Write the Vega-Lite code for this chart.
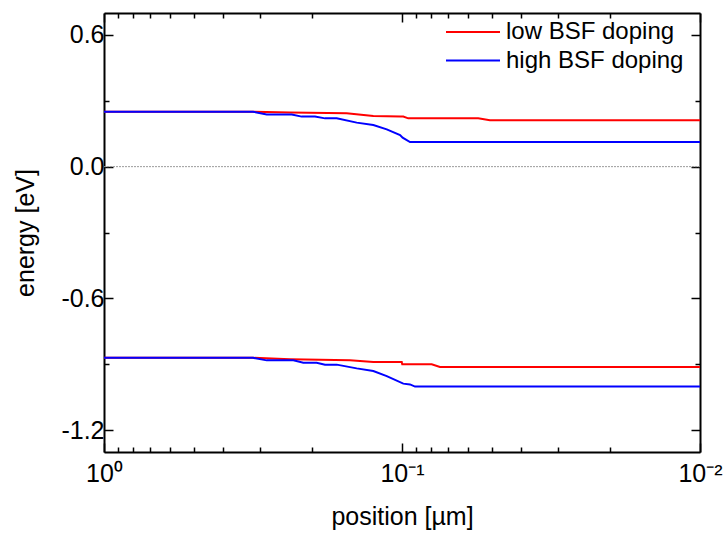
{
  "$schema": "https://vega.github.io/schema/vega-lite/v6.json",
  "width": 596,
  "height": 439,
  "autosize": {"type": "none"},
  "padding": {"left": 104, "top": 13, "right": 24, "bottom": 84},
  "background": "white",
  "config": {
    "font": "Liberation Sans",
    "view": {"stroke": null},
    "axis": {
      "grid": false,
      "domainColor": "black",
      "domainWidth": 2,
      "tickColor": "black",
      "tickWidth": 1.5,
      "labelColor": "black",
      "titleColor": "black",
      "labelFont": "Liberation Sans",
      "titleFont": "Liberation Sans",
      "labelFontSize": 25,
      "titleFontSize": 25,
      "titleFontWeight": "normal",
      "labelOverlap": false,
      "labelFlush": false,
      "labelBound": false
    }
  },
  "datasets": {
    "bands": [
      {"position": 1, "energy": 0.25, "series": "low BSF doping", "band": "upper"},
      {"position": 0.3162, "energy": 0.25, "series": "low BSF doping", "band": "upper"},
      {"position": 0.2375, "energy": 0.247, "series": "low BSF doping", "band": "upper"},
      {"position": 0.1534, "energy": 0.243, "series": "low BSF doping", "band": "upper"},
      {"position": 0.1248, "energy": 0.2305, "series": "low BSF doping", "band": "upper"},
      {"position": 0.101, "energy": 0.228, "series": "low BSF doping", "band": "upper"},
      {"position": 0.099, "energy": 0.228, "series": "low BSF doping", "band": "upper"},
      {"position": 0.0953, "energy": 0.22, "series": "low BSF doping", "band": "upper"},
      {"position": 0.0555, "energy": 0.22, "series": "low BSF doping", "band": "upper"},
      {"position": 0.0507, "energy": 0.211, "series": "low BSF doping", "band": "upper"},
      {"position": 0.01, "energy": 0.211, "series": "low BSF doping", "band": "upper"},
      {"position": 1, "energy": 0.25, "series": "high BSF doping", "band": "upper"},
      {"position": 0.3162, "energy": 0.25, "series": "high BSF doping", "band": "upper"},
      {"position": 0.2844, "energy": 0.238, "series": "high BSF doping", "band": "upper"},
      {"position": 0.2344, "energy": 0.238, "series": "high BSF doping", "band": "upper"},
      {"position": 0.2172, "energy": 0.228, "series": "high BSF doping", "band": "upper"},
      {"position": 0.1959, "energy": 0.228, "series": "high BSF doping", "band": "upper"},
      {"position": 0.1813, "energy": 0.22, "series": "high BSF doping", "band": "upper"},
      {"position": 0.1656, "energy": 0.22, "series": "high BSF doping", "band": "upper"},
      {"position": 0.1419, "energy": 0.2005, "series": "high BSF doping", "band": "upper"},
      {"position": 0.1248, "energy": 0.1895, "series": "high BSF doping", "band": "upper"},
      {"position": 0.1125, "energy": 0.17, "series": "high BSF doping", "band": "upper"},
      {"position": 0.1015, "energy": 0.144, "series": "high BSF doping", "band": "upper"},
      {"position": 0.0995, "energy": 0.132, "series": "high BSF doping", "band": "upper"},
      {"position": 0.094, "energy": 0.112, "series": "high BSF doping", "band": "upper"},
      {"position": 0.01, "energy": 0.112, "series": "high BSF doping", "band": "upper"},
      {"position": 1, "energy": -0.871, "series": "low BSF doping", "band": "lower"},
      {"position": 0.3162, "energy": -0.871, "series": "low BSF doping", "band": "lower"},
      {"position": 0.2375, "energy": -0.877, "series": "low BSF doping", "band": "lower"},
      {"position": 0.1494, "energy": -0.8825, "series": "low BSF doping", "band": "lower"},
      {"position": 0.1248, "energy": -0.89, "series": "low BSF doping", "band": "lower"},
      {"position": 0.1002, "energy": -0.89, "series": "low BSF doping", "band": "lower"},
      {"position": 0.0998, "energy": -0.9007, "series": "low BSF doping", "band": "lower"},
      {"position": 0.0795, "energy": -0.9007, "series": "low BSF doping", "band": "lower"},
      {"position": 0.0746, "energy": -0.913, "series": "low BSF doping", "band": "lower"},
      {"position": 0.01, "energy": -0.913, "series": "low BSF doping", "band": "lower"},
      {"position": 1, "energy": -0.871, "series": "high BSF doping", "band": "lower"},
      {"position": 0.3162, "energy": -0.871, "series": "high BSF doping", "band": "lower"},
      {"position": 0.2844, "energy": -0.8825, "series": "high BSF doping", "band": "lower"},
      {"position": 0.2316, "energy": -0.8825, "series": "high BSF doping", "band": "lower"},
      {"position": 0.2144, "energy": -0.893, "series": "high BSF doping", "band": "lower"},
      {"position": 0.1933, "energy": -0.893, "series": "high BSF doping", "band": "lower"},
      {"position": 0.1813, "energy": -0.902, "series": "high BSF doping", "band": "lower"},
      {"position": 0.1656, "energy": -0.902, "series": "high BSF doping", "band": "lower"},
      {"position": 0.1419, "energy": -0.919, "series": "high BSF doping", "band": "lower"},
      {"position": 0.1248, "energy": -0.931, "series": "high BSF doping", "band": "lower"},
      {"position": 0.1125, "energy": -0.954, "series": "high BSF doping", "band": "lower"},
      {"position": 0.099, "energy": -0.9886, "series": "high BSF doping", "band": "lower"},
      {"position": 0.094, "energy": -0.992, "series": "high BSF doping", "band": "lower"},
      {"position": 0.0904, "energy": -1.002, "series": "high BSF doping", "band": "lower"},
      {"position": 0.01, "energy": -1.002, "series": "high BSF doping", "band": "lower"}
    ],
    "zero": [{"energy": 0}]
  },
  "layer": [
    {
      "data": {"name": "zero"},
      "mark": {"type": "rule", "color": "#9a9a9a", "strokeWidth": 1, "strokeDash": [2, 1]},
      "encoding": {
        "y": {"field": "energy", "type": "quantitative", "scale": {"domain": [-1.3, 0.7], "nice": false, "zero": false}, "axis": null}
      }
    },
    {
      "data": {"name": "bands"},
      "mark": {"type": "line", "strokeWidth": 2, "interpolate": "linear"},
      "encoding": {
        "x": {
          "field": "position", "type": "quantitative",
          "scale": {"type": "log", "domain": [0.01, 1], "reverse": true, "nice": false},
          "axis": {
            "orient": "bottom",
            "title": "position [µm]",
            "values": [1, 0.9, 0.8, 0.7, 0.6, 0.5, 0.4, 0.3, 0.2, 0.1, 0.09, 0.08, 0.07, 0.06, 0.05, 0.04, 0.03, 0.02, 0.01],
            "labelExpr": "datum.value == 1 ? '10⁰' : datum.value == 0.1 ? '10⁻¹' : datum.value == 0.01 ? '10⁻²' : ''",
            "tickSize": {"condition": {"test": "datum.value == 1 || datum.value == 0.1 || datum.value == 0.01", "value": -9}, "value": -5},
            "labelPadding": 18,
            "titlePadding": 14
          }
        },
        "y": {
          "field": "energy", "type": "quantitative",
          "scale": {"domain": [-1.3, 0.7], "nice": false, "zero": false},
          "axis": {
            "orient": "left",
            "title": "energy [eV]",
            "values": [-1.2, -0.9, -0.6, -0.3, 0, 0.3, 0.6],
            "labelExpr": "datum.value == -1.2 || datum.value == -0.6 || datum.value == 0 || datum.value == 0.6 ? replace(format(datum.value, '.1f'), '−', '-') : ''",
            "tickSize": {"condition": {"test": "datum.value == -1.2 || datum.value == -0.6 || datum.value == 0 || datum.value == 0.6", "value": -9}, "value": -5},
            "labelPadding": 9,
            "titlePadding": 22
          }
        },
        "color": {
          "field": "series", "type": "nominal",
          "scale": {"domain": ["low BSF doping", "high BSF doping"], "range": ["#ff0000", "#0000ff"]},
          "legend": {
            "title": null,
            "orient": "none",
            "legendX": 341,
            "legendY": 6,
            "symbolType": "stroke",
            "symbolSize": 2916,
            "symbolStrokeWidth": 2,
            "labelFontSize": 24,
            "labelFont": "Liberation Sans",
            "labelColor": "black",
            "labelLimit": 400,
            "clipHeight": 26,
            "rowPadding": 2.5,
            "labelOffset": 5,
            "padding": 0
          }
        },
        "detail": {"field": "band"}
      }
    },
    {
      "data": {"name": "bands"},
      "mark": {"type": "line", "strokeOpacity": 0},
      "encoding": {
        "x": {
          "field": "position", "type": "quantitative",
          "axis": {
            "orient": "top",
            "title": null,
            "values": [1, 0.9, 0.8, 0.7, 0.6, 0.5, 0.4, 0.3, 0.2, 0.1, 0.09, 0.08, 0.07, 0.06, 0.05, 0.04, 0.03, 0.02, 0.01],
            "labels": false,
            "tickSize": {"condition": {"test": "datum.value == 1 || datum.value == 0.1 || datum.value == 0.01", "value": -9}, "value": -5}
          }
        },
        "y": {
          "field": "energy", "type": "quantitative",
          "axis": {
            "orient": "right",
            "title": null,
            "values": [-1.2, -0.9, -0.6, -0.3, 0, 0.3, 0.6],
            "labels": false,
            "tickSize": {"condition": {"test": "datum.value == -1.2 || datum.value == -0.6 || datum.value == 0 || datum.value == 0.6", "value": -9}, "value": -5}
          }
        },
        "detail": {"field": "band"}
      }
    }
  ],
  "resolve": {"axis": {"x": "independent", "y": "independent"}}
}
